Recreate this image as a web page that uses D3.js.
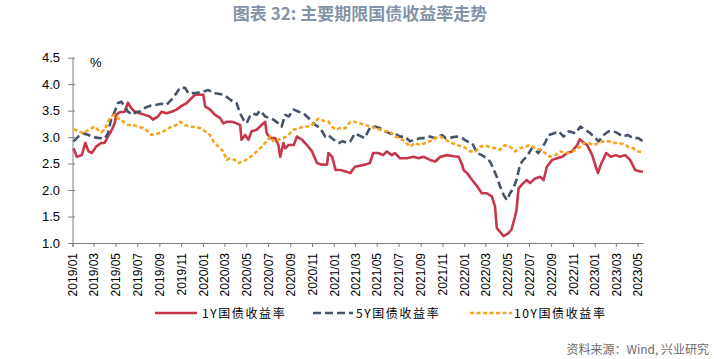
<!DOCTYPE html>
<html>
<head>
<meta charset="utf-8">
<script src="https://cdn.jsdelivr.net/npm/d3@7"></script>
<style>
  html, body { margin: 0; padding: 0; background: #fff; }
  svg { display: block; }
</style>
</head>
<body>
<svg id="chart" width="714" height="359"></svg>
<script>
// ---------------- data ----------------
const seriesNames = ["1Y国债收益率", "5Y国债收益率", "10Y国债收益率"];
const yTicks = [1.0, 1.5, 2.0, 2.5, 3.0, 3.5, 4.0, 4.5];

const dates1Y = ["2019-01-04","2019-01-13","2019-01-27","2019-02-06","2019-02-15","2019-02-24","2019-03-08","2019-03-22","2019-04-01","2019-04-10","2019-04-19","2019-04-29","2019-05-03","2019-05-13","2019-05-27","2019-06-05","2019-06-14","2019-06-24","2019-07-08","2019-07-22","2019-08-05","2019-08-14","2019-08-28","2019-09-07","2019-09-21","2019-10-05","2019-10-19","2019-11-02","2019-11-16","2019-11-26","2019-12-10","2019-12-24","2020-01-02","2020-01-07","2020-01-21","2020-02-04","2020-02-18","2020-02-27","2020-03-07","2020-03-21","2020-04-04","2020-04-14","2020-04-18","2020-04-28","2020-05-07","2020-05-16","2020-05-30","2020-06-13","2020-06-23","2020-06-27","2020-07-07","2020-07-21","2020-07-30","2020-08-04","2020-08-13","2020-08-18","2020-08-27","2020-09-11","2020-09-20","2020-10-04","2020-10-18","2020-11-01","2020-11-15","2020-11-29","2020-12-13","2020-12-17","2020-12-27","2021-01-06","2021-01-20","2021-02-03","2021-02-16","2021-03-01","2021-03-15","2021-03-29","2021-04-12","2021-04-21","2021-05-05","2021-05-19","2021-05-29","2021-06-12","2021-06-21","2021-07-05","2021-07-24","2021-08-12","2021-08-26","2021-09-09","2021-09-27","2021-10-12","2021-10-26","2021-11-14","2021-12-02","2021-12-16","2021-12-26","2021-12-30","2022-01-09","2022-01-23","2022-02-06","2022-02-19","2022-03-05","2022-03-19","2022-03-28","2022-04-02","2022-04-11","2022-04-21","2022-05-04","2022-05-13","2022-05-23","2022-05-27","2022-06-02","2022-06-15","2022-06-25","2022-07-04","2022-07-18","2022-08-02","2022-08-11","2022-08-20","2022-09-04","2022-09-18","2022-10-02","2022-10-16","2022-10-29","2022-11-13","2022-11-20","2022-12-02","2022-12-11","2022-12-25","2023-01-04","2023-01-10","2023-01-18","2023-02-02","2023-02-15","2023-03-01","2023-03-13","2023-03-27","2023-04-10","2023-04-24","2023-05-08","2023-05-16"];
const yield1Y = [2.79,2.63,2.66,2.89,2.73,2.70,2.82,2.89,2.89,3.01,3.11,3.26,3.42,3.47,3.48,3.65,3.55,3.48,3.45,3.42,3.39,3.33,3.39,3.48,3.45,3.48,3.52,3.59,3.64,3.71,3.80,3.80,3.80,3.58,3.52,3.42,3.36,3.26,3.29,3.29,3.26,3.23,2.95,3.04,2.95,3.11,3.14,3.23,3.29,3.08,2.98,2.98,2.85,2.63,2.89,2.79,2.85,2.85,3.01,2.95,2.85,2.73,2.51,2.48,2.48,2.70,2.63,2.38,2.38,2.35,2.32,2.44,2.46,2.48,2.51,2.70,2.70,2.66,2.73,2.66,2.70,2.60,2.60,2.63,2.60,2.63,2.57,2.54,2.63,2.66,2.64,2.63,2.48,2.38,2.32,2.19,2.07,1.94,1.94,1.88,1.69,1.28,1.21,1.13,1.18,1.25,1.50,1.62,2.03,2.13,2.19,2.13,2.22,2.25,2.19,2.44,2.57,2.60,2.63,2.70,2.73,2.85,2.96,2.89,2.85,2.66,2.44,2.32,2.48,2.70,2.63,2.66,2.63,2.66,2.57,2.38,2.35,2.35];

const dates5Y = ["2019-01-04","2019-01-17","2019-02-01","2019-02-15","2019-02-24","2019-03-08","2019-03-22","2019-04-01","2019-04-10","2019-04-19","2019-04-29","2019-05-08","2019-05-17","2019-05-27","2019-06-05","2019-06-19","2019-06-28","2019-07-08","2019-07-22","2019-08-05","2019-08-24","2019-09-07","2019-09-21","2019-10-05","2019-10-19","2019-10-28","2019-11-12","2019-11-21","2019-12-05","2019-12-19","2020-01-02","2020-01-16","2020-01-30","2020-02-13","2020-02-27","2020-03-11","2020-03-25","2020-04-04","2020-04-14","2020-04-23","2020-05-02","2020-05-11","2020-05-20","2020-05-30","2020-06-09","2020-06-23","2020-07-16","2020-07-30","2020-08-08","2020-08-18","2020-08-28","2020-09-11","2020-09-25","2020-10-08","2020-10-27","2020-11-10","2020-11-24","2020-12-08","2020-12-16","2021-01-01","2021-01-15","2021-01-25","2021-02-08","2021-02-16","2021-03-01","2021-03-10","2021-03-20","2021-03-28","2021-04-12","2021-04-26","2021-05-10","2021-05-24","2021-06-07","2021-06-21","2021-07-05","2021-07-19","2021-08-02","2021-08-16","2021-08-31","2021-09-14","2021-09-27","2021-10-12","2021-10-31","2021-11-10","2021-11-23","2021-12-11","2021-12-26","2022-01-09","2022-01-23","2022-02-06","2022-02-19","2022-03-05","2022-03-14","2022-03-23","2022-04-02","2022-04-11","2022-04-21","2022-04-30","2022-05-09","2022-05-18","2022-05-27","2022-06-06","2022-06-15","2022-06-25","2022-07-09","2022-07-18","2022-07-27","2022-08-06","2022-08-15","2022-08-25","2022-09-08","2022-09-22","2022-10-06","2022-10-20","2022-11-08","2022-11-22","2022-12-06","2022-12-20","2023-01-03","2023-01-12","2023-01-26","2023-02-09","2023-02-23","2023-03-07","2023-03-21","2023-04-04","2023-04-18","2023-05-03","2023-05-16"];
const yield5Y = [2.92,3.01,3.07,3.04,3.01,2.99,2.98,2.97,3.07,3.33,3.48,3.64,3.67,3.58,3.48,3.42,3.48,3.48,3.55,3.59,3.61,3.63,3.61,3.71,3.83,3.93,3.93,3.83,3.83,3.84,3.86,3.89,3.83,3.82,3.80,3.74,3.67,3.64,3.45,3.33,3.26,3.39,3.45,3.42,3.50,3.39,3.33,3.26,3.20,3.42,3.39,3.52,3.48,3.45,3.33,3.23,3.17,3.01,3.04,2.95,2.89,2.92,2.89,2.92,3.07,3.04,3.01,2.98,3.17,3.20,3.17,3.11,3.07,3.07,3.01,3.01,2.92,2.95,2.98,2.98,3.01,2.98,3.04,2.98,2.99,3.01,2.98,2.92,2.89,2.70,2.66,2.60,2.54,2.41,2.25,2.07,1.91,1.81,1.94,2.03,2.19,2.48,2.57,2.63,2.79,2.76,2.70,2.79,2.89,3.04,3.07,3.11,3.01,3.11,3.07,3.20,3.14,3.07,2.98,2.92,3.04,3.11,3.11,3.07,3.01,3.04,2.98,2.98,2.92];

const dates10Y = ["2019-01-04","2019-01-17","2019-02-01","2019-02-15","2019-02-24","2019-03-04","2019-03-13","2019-03-22","2019-04-01","2019-04-10","2019-04-19","2019-04-29","2019-05-08","2019-05-17","2019-05-27","2019-06-05","2019-06-19","2019-07-03","2019-07-17","2019-07-31","2019-08-10","2019-08-24","2019-09-07","2019-09-21","2019-10-05","2019-10-19","2019-10-30","2019-11-12","2019-11-26","2019-12-10","2019-12-24","2020-01-07","2020-01-21","2020-01-30","2020-02-13","2020-02-27","2020-03-07","2020-03-16","2020-03-30","2020-04-09","2020-04-23","2020-05-07","2020-05-20","2020-06-04","2020-06-18","2020-07-07","2020-07-16","2020-07-30","2020-08-13","2020-08-27","2020-09-11","2020-09-25","2020-10-13","2020-10-27","2020-11-10","2020-11-19","2020-12-03","2020-12-17","2020-12-27","2021-01-06","2021-01-20","2021-02-03","2021-02-16","2021-03-01","2021-03-15","2021-03-29","2021-04-12","2021-04-26","2021-05-10","2021-05-24","2021-06-07","2021-06-21","2021-07-05","2021-07-19","2021-08-02","2021-08-16","2021-08-30","2021-09-14","2021-09-27","2021-10-12","2021-10-26","2021-11-10","2021-11-23","2021-12-11","2021-12-30","2022-01-18","2022-02-02","2022-02-15","2022-03-01","2022-03-14","2022-03-28","2022-04-11","2022-04-25","2022-05-09","2022-05-23","2022-06-06","2022-06-20","2022-07-04","2022-07-18","2022-08-02","2022-08-15","2022-08-29","2022-09-13","2022-09-27","2022-10-11","2022-10-25","2022-11-08","2022-11-22","2022-12-02","2022-12-15","2022-12-29","2023-01-12","2023-01-26","2023-02-09","2023-02-23","2023-03-07","2023-03-21","2023-04-04","2023-04-18","2023-05-03","2023-05-16"];
const yield10Y = [3.15,3.11,3.07,3.14,3.17,3.20,3.14,3.09,3.14,3.29,3.39,3.42,3.36,3.33,3.26,3.23,3.23,3.20,3.17,3.11,3.04,3.06,3.09,3.14,3.20,3.23,3.29,3.23,3.20,3.19,3.17,3.11,3.04,2.92,2.82,2.73,2.57,2.60,2.57,2.51,2.54,2.60,2.66,2.76,2.85,3.01,2.92,2.95,2.98,3.04,3.14,3.17,3.20,3.20,3.29,3.35,3.31,3.29,3.20,3.14,3.17,3.17,3.29,3.29,3.26,3.23,3.20,3.17,3.14,3.11,3.11,3.01,2.98,2.92,2.82,2.89,2.85,2.89,2.92,2.98,3.01,2.95,2.90,2.85,2.82,2.73,2.73,2.82,2.84,2.81,2.79,2.76,2.85,2.82,2.73,2.79,2.82,2.85,2.79,2.76,2.70,2.63,2.66,2.73,2.70,2.70,2.76,2.82,2.89,2.89,2.85,2.89,2.92,2.92,2.89,2.89,2.87,2.82,2.79,2.73,2.71];

const seriesColors = ["#c8364b", "#44546a", "#f7a51e"];

// ---------------- drawing ----------------
const parse = d3.timeParse("%Y-%m-%d");
const svg = d3.select("#chart");

const x = d3.scaleTime()
  .domain([parse("2019-01-01"), parse("2023-05-16")])
  .range([72.5, 643]);
const y = d3.scaleLinear().domain([1.0, 4.5]).range([243, 57.7]);

const font = "'Liberation Sans', Arial, sans-serif";

// title
svg.append("text")
  .attr("x", 360).attr("y", 20)
  .attr("text-anchor", "middle")
  .attr("font-family", "'Noto Sans CJK SC', sans-serif")
  .attr("font-weight", "bold")
  .attr("font-size", 17)
  .attr("fill", "#8393a8")
  .text("图表 32: 主要期限国债收益率走势");

// y axis
const yAxis = d3.axisLeft(y).tickValues(yTicks).tickFormat(d3.format(".1f")).tickSize(5).tickSizeOuter(0).tickPadding(8);
const gy = svg.append("g").attr("transform", "translate(73,0)").call(yAxis);
gy.select(".domain").attr("stroke", "#7f7f7f").attr("d", "M0,57.7V247");
gy.selectAll(".tick line").attr("stroke", "#7f7f7f").attr("x2", -5).attr("x1", 2);
gy.selectAll(".tick text").attr("font-family", font).attr("font-size", 13).attr("fill", "#000");

// x axis
const xTickDates = d3.timeMonth.every(2).range(parse("2019-01-01"), parse("2023-05-02"));
const xAxis = d3.axisBottom(x).tickValues(xTickDates).tickFormat(d3.timeFormat("%Y/%m")).tickSize(4).tickSizeOuter(0);
const gx = svg.append("g").attr("transform", "translate(0,243)").call(xAxis);
gx.select(".domain").attr("stroke", "#7f7f7f");
gx.selectAll(".tick line").attr("stroke", "#7f7f7f");
gx.selectAll(".tick text")
  .attr("font-family", font).attr("font-size", 12).attr("fill", "#000")
  .attr("text-anchor", "end")
  .attr("transform", "rotate(-90)")
  .attr("x", -10).attr("y", 0).attr("dy", "0.35em");

// unit
svg.append("text").attr("x", 90).attr("y", 67)
  .attr("font-family", font).attr("font-size", 13).attr("fill", "#000").text("%");

// lines
const line = d3.line().x(d => x(d[0])).y(d => y(d[1])).curve(d3.curveLinear);
const allSeries = [
  { dates: dates1Y, vals: yield1Y, dash: null },
  { dates: dates5Y, vals: yield5Y, dash: "8,4" },
  { dates: dates10Y, vals: yield10Y, dash: "4,2.5" }
];
// draw in order: 10Y, 5Y, 1Y? keep original stacking: 1Y bottom
const order = [0, 1, 2];
order.forEach(i => {
  const s = allSeries[i];
  const pts = s.dates.map((d, k) => [parse(d), s.vals[k]]);
  svg.append("path")
    .datum(pts)
    .attr("d", line)
    .attr("fill", "none")
    .attr("stroke", seriesColors[i])
    .attr("stroke-width", 2.6)
    .attr("stroke-linejoin", "round")
    .attr("stroke-dasharray", s.dash);
});

// legend
const legendPos = [
  { x1: 155, x2: 197, tx: 202 },
  { x1: 313, x2: 353, tx: 356 },
  { x1: 470, x2: 512, tx: 514 }
];
legendPos.forEach((p, i) => {
  svg.append("line")
    .attr("x1", p.x1).attr("x2", p.x2).attr("y1", 313).attr("y2", 313)
    .attr("stroke", seriesColors[i]).attr("stroke-width", 2.6)
    .attr("stroke-dasharray", allSeries[i].dash);
  svg.append("text")
    .attr("x", p.tx).attr("y", 317.5)
    .attr("font-family", "'Noto Sans CJK SC', sans-serif")
    .attr("font-size", 12).attr("letter-spacing", "1.6px").attr("fill", "#000")
    .text(seriesNames[i]);
});

// source
svg.append("text")
  .attr("x", 709).attr("y", 354)
  .attr("text-anchor", "end")
  .attr("font-family", "'Noto Sans CJK SC', sans-serif")
  .attr("font-size", 12).attr("fill", "#6b6b6b")
  .text("资料来源：Wind, 兴业研究");
</script>
</body>
</html>
